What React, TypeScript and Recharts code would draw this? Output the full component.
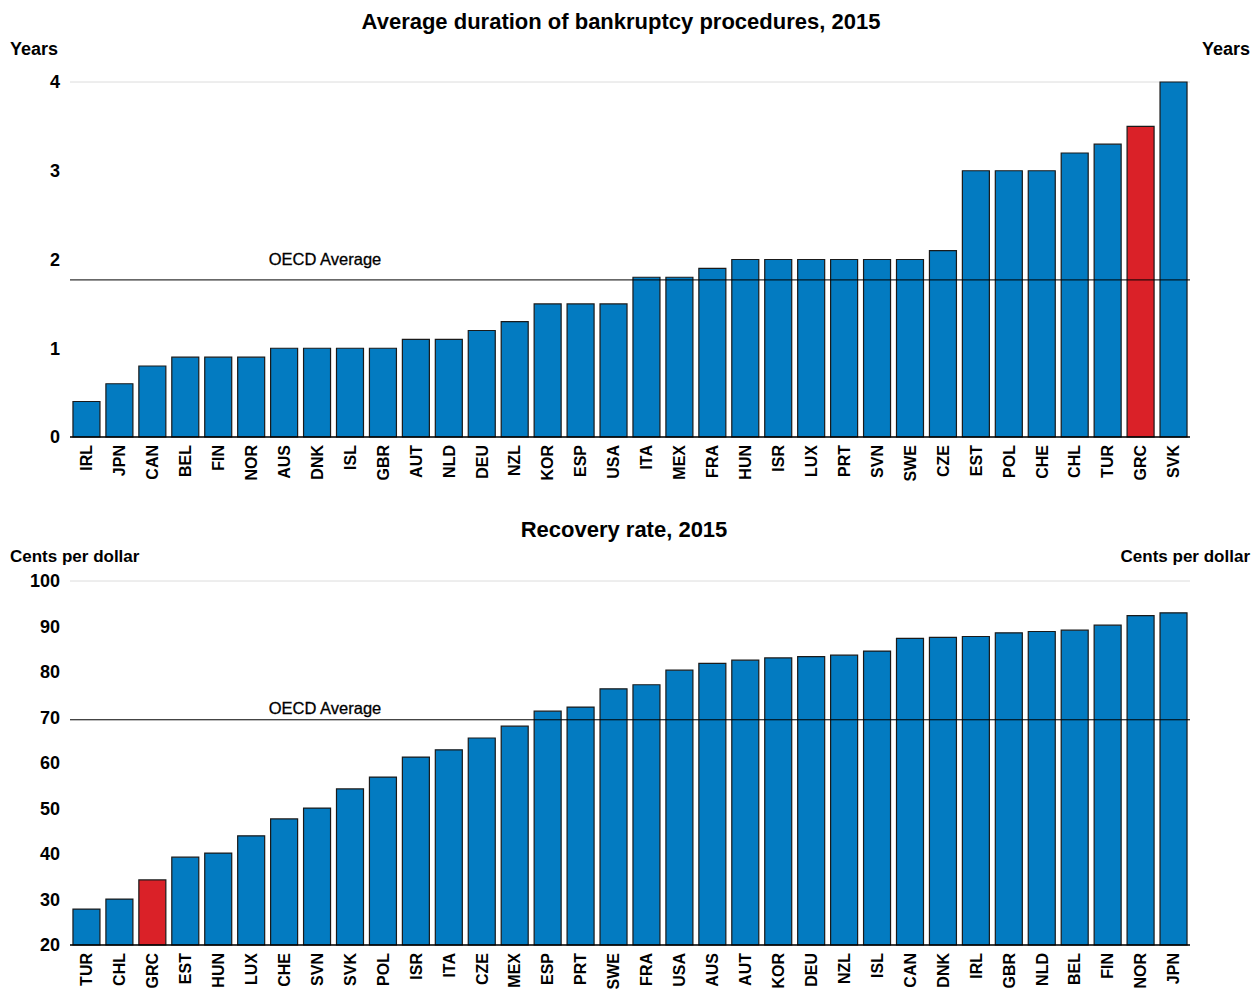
import React from 'react';
import { BarChart, Bar, XAxis, YAxis, CartesianGrid, ReferenceLine, Cell } from 'recharts';

const durationCountries = ['IRL','JPN','CAN','BEL','FIN','NOR','AUS','DNK','ISL','GBR','AUT','NLD','DEU','NZL','KOR','ESP','USA','ITA','MEX','FRA','HUN','ISR','LUX','PRT','SVN','SWE','CZE','EST','POL','CHE','CHL','TUR','GRC','SVK'];
const durationValues = [0.4,0.6,0.8,0.9,0.9,0.9,1,1,1,1,1.1,1.1,1.2,1.3,1.5,1.5,1.5,1.8,1.8,1.9,2,2,2,2,2,2,2.1,3,3,3,3.2,3.3,3.5,4];
const durationTicks = [0,1,2,3,4];
const durationOecd = 1.77;

const recoveryCountries = ['TUR','CHL','GRC','EST','HUN','LUX','CHE','SVN','SVK','POL','ISR','ITA','CZE','MEX','ESP','PRT','SWE','FRA','USA','AUS','AUT','KOR','DEU','NZL','ISL','CAN','DNK','IRL','GBR','NLD','BEL','FIN','NOR','JPN'];
const recoveryValues = [27.9,30.1,34.3,39.3,40.2,44.0,47.7,50.1,54.3,56.9,61.3,62.9,65.5,68.1,71.4,72.3,76.3,77.2,80.4,81.9,82.6,83.1,83.4,83.7,84.6,87.4,87.6,87.8,88.6,88.9,89.2,90.3,92.4,93.0];
const recoveryTicks = [20,30,40,50,60,70,80,90,100];
const recoveryOecd = 69.5;

const highlight = 'GRC';
const BLUE = '#037BC1';
const RED = '#DA2128';
const FONT = '"Liberation Sans", Arial, sans-serif';

const durationData = durationCountries.map((c, i) => ({ name: c, value: durationValues[i] }));
const recoveryData = recoveryCountries.map((c, i) => ({ name: c, value: recoveryValues[i] }));

const XTick = (props: any) => {
  const { x, y, payload } = props;
  return (
    <g transform={`translate(${x},${y}) rotate(-90)`}>
      <text x={0} y={0} dy="0.36em" textAnchor="end" fill="#000" fontSize={16} fontWeight="bold" fontFamily={FONT}>
        {payload.value}
      </text>
    </g>
  );
};

const makeOecdLabel = (lift: number) => (props: any) => {
  const { viewBox } = props;
  return (
    <text x={viewBox.x + 255} y={viewBox.y - lift} textAnchor="middle" dominantBaseline="central" fill="#000" fontSize={16.5} fontFamily={FONT} stroke="#000" strokeWidth={0.3}>
      OECD Average
    </text>
  );
};

const tickStyle = { fill: '#000', fontSize: 18, fontWeight: 'bold' as const, fontFamily: FONT };

const textStyle: React.CSSProperties = { position: 'absolute', fontFamily: FONT, fontWeight: 'bold', color: '#000', whiteSpace: 'nowrap', lineHeight: '22px' };

function Panel(props: { data: any[]; ticks: number[]; domain: [number, number]; oecd: number; lift: number; top: number; height: number; marginTop: number; marginBottom: number; xHeight: number }) {
  const { data, ticks, domain, oecd, lift, top, height, marginTop, marginBottom, xHeight } = props;
  return (
    <div style={{ position: 'absolute', left: 0, top }}>
      <BarChart width={1252} height={height} data={data} margin={{ top: marginTop, right: 10, bottom: marginBottom, left: 10 }} barCategoryGap="9%">
        <CartesianGrid vertical={false} stroke="#dcdcdc" strokeWidth={1} />
        <XAxis dataKey="name" interval={0} tick={<XTick />} tickLine={false} axisLine={{ stroke: '#000', strokeWidth: 1.5 }} height={xHeight} />
        <YAxis yAxisId="left" orientation="left" domain={domain} ticks={ticks} tick={tickStyle} tickLine={false} axisLine={false} width={60} tickMargin={4} />
        <YAxis yAxisId="right" orientation="right" domain={domain} ticks={ticks} tick={{ ...tickStyle, textAnchor: 'start' }} tickLine={false} axisLine={false} width={52} tickMargin={4} />
        <Bar yAxisId="left" dataKey="value" stroke="#1a1a1a" strokeWidth={1.2} isAnimationActive={false}>
          {data.map((d) => (
            <Cell key={d.name} fill={d.name === highlight ? RED : BLUE} />
          ))}
        </Bar>
        <ReferenceLine yAxisId="left" y={oecd} stroke="#000" strokeWidth={1} label={makeOecdLabel(lift)} />
      </BarChart>
    </div>
  );
}

export default function App() {
  return (
    <div style={{ position: 'absolute', left: 0, top: 0, width: 1252, height: 990, background: '#fff' }}>
      <Panel data={durationData} ticks={durationTicks} domain={[0, 4]} oecd={durationOecd} lift={21} top={0} height={495} marginTop={82} marginBottom={8} xHeight={50} />
      <Panel data={recoveryData} ticks={recoveryTicks} domain={[20, 100]} oecd={recoveryOecd} lift={12} top={495} height={495} marginTop={86} marginBottom={5} xHeight={40} />
      <div style={{ ...textStyle, left: 0, width: 1242, top: 11, textAlign: 'center', fontSize: 22 }}>Average duration of bankruptcy procedures, 2015</div>
      <div style={{ ...textStyle, left: 10, top: 38, fontSize: 18 }}>Years</div>
      <div style={{ ...textStyle, right: 2, top: 38, fontSize: 18 }}>Years</div>
      <div style={{ ...textStyle, left: 0, width: 1248, top: 519, textAlign: 'center', fontSize: 22 }}>Recovery rate, 2015</div>
      <div style={{ ...textStyle, left: 10, top: 546, fontSize: 17 }}>Cents per dollar</div>
      <div style={{ ...textStyle, right: 2, top: 546, fontSize: 17 }}>Cents per dollar</div>
    </div>
  );
}
